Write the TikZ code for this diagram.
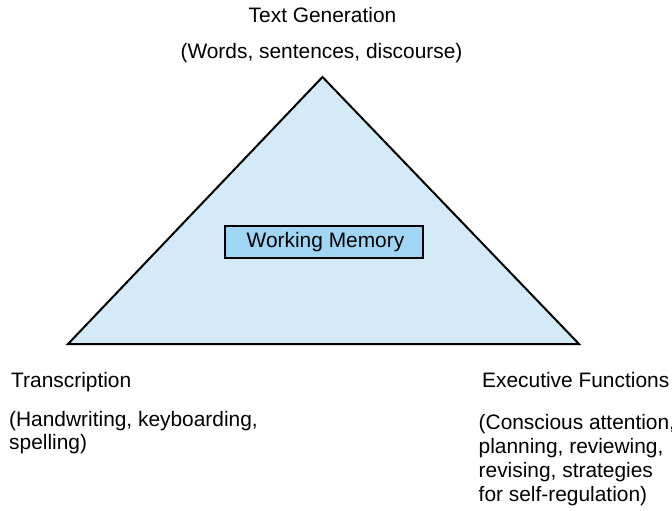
\documentclass[tikz,border=0pt]{standalone}
\usepackage{fontspec}
\setmainfont{Liberation Sans}
\definecolor{trifill}{RGB}{212,234,248}
\definecolor{boxfill}{RGB}{160,214,244}
\begin{document}
\begin{tikzpicture}[x=1bp,y=-1bp,
  lbl/.style={inner sep=0pt, font=\fontsize{20.9bp}{24bp}\selectfont},
  wmbox/.style={draw=black, line width=1.3bp, fill=boxfill, minimum width=198bp, minimum height=32bp, inner sep=0pt},
  tri/.style={draw=black, line width=2bp, fill=trifill, line join=miter}]
\useasboundingbox (0,0) rectangle (672,511);
\coordinate (apex) at (322.5,77);
\coordinate (bl) at (68,344);
\coordinate (br) at (579,344);
\filldraw[tri] (apex) -- (bl) -- (br) -- cycle;
\node[wmbox] (wm) at (324,242) {};
\node[lbl, anchor=base] (wmt) at (325.5,248) {Working Memory};
\node[lbl, anchor=base] (tg) at (322.5,23) {Text Generation};
\node[lbl, anchor=base] (tg2) at (321.5,59) {(Words, sentences, discourse)};
\node[lbl, anchor=base west] (tr) at (11,387) {Transcription};
\node[lbl, anchor=base west] (tr2) at (9,426) {(Handwriting, keyboarding,};
\node[lbl, anchor=base west] (tr3) at (9,449) {spelling)};
\node[lbl, anchor=base west] (ef) at (482,387) {Executive Functions};
\node[lbl, anchor=base west] (ef2) at (478.5,429) {(Conscious attention,};
\node[lbl, anchor=base west] (ef3) at (478.5,453) {planning, reviewing,};
\node[lbl, anchor=base west] (ef4) at (478.5,477) {revising, strategies};
\node[lbl, anchor=base west] (ef5) at (478.5,501) {for self-regulation)};
\end{tikzpicture}
\end{document}
